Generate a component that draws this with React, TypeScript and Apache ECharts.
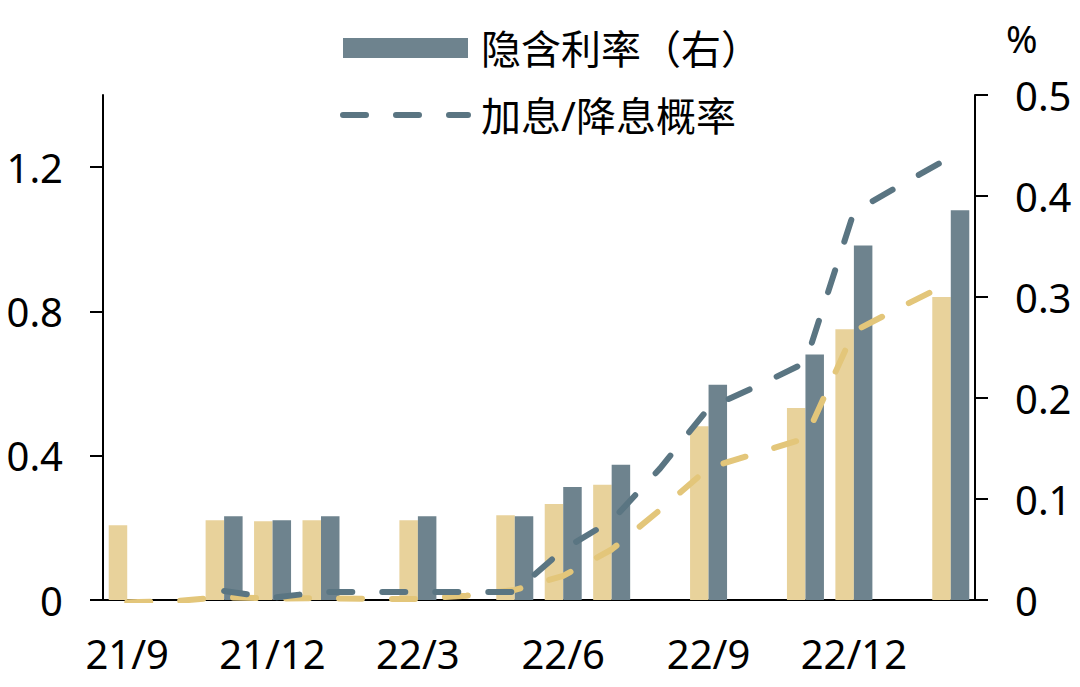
import React, { useEffect, useRef } from "react";
import * as echarts from "echarts";

const categories = [
  "21/9", "21/10", "21/11", "21/12", "22/1", "22/2", "22/3", "22/4", "22/5",
  "22/6", "22/7", "22/8", "22/9", "22/10", "22/11", "22/12", "23/1", "23/2",
];
// implied rate (right axis, %)
const impliedRate = [null, null, 0.083, 0.079, 0.083, null, 0.083, null, 0.083, 0.112, 0.134, null, 0.213, null, 0.243, 0.351, null, 0.386];
const impliedRatePrev = [0.074, null, 0.079, 0.078, 0.079, null, 0.079, null, 0.084, 0.095, 0.114, null, 0.172, null, 0.19, 0.268, null, 0.3];
// hike / cut probability (left axis)
const hikeProb = [null, null, 0.025, 0.006, 0.022, 0.022, 0.022, 0.022, 0.022, 0.14, 0.22, 0.365, 0.532, 0.593, 0.658, 1.076, 1.153, 1.228];
const hikeProbPrev = [-0.006, -0.003, 0.008, 0.004, 0.005, 0.003, 0.003, 0.012, 0.028, 0.067, 0.14, 0.25, 0.366, 0.407, 0.448, 0.745, 0.814, 0.881];
const leftTicks = [0, 0.4, 0.8, 1.2];

const GREY_BAR = "#6E838E";
const TAN_BAR = "#E8D29B";
const GREY_LINE = "#5A7582";
const TAN_LINE = "#E3C67A";
const FONT = '"Noto Sans", "Noto Sans CJK SC", sans-serif';

export default function App() {
  const ref = useRef<HTMLDivElement>(null);
  useEffect(() => {
    if (!ref.current) return;
    const chart = echarts.init(ref.current, null, { renderer: "svg" });
    const dash = [23, 30];
    chart.setOption({
      animation: false,
      backgroundColor: "#fff",
      textStyle: { fontFamily: FONT },
      grid: { left: 103, right: 105, top: 95, bottom: 87 },
      legend: {
        orient: "vertical",
        left: 340,
        top: 27,
        padding: 0,
        itemWidth: 125,
        itemHeight: 20,
        itemGap: 25,
        textStyle: { fontSize: 40, lineHeight: 42, color: "#000", fontFamily: FONT, padding: [0, 0, 0, 8] },
        lineStyle: { width: 6, type: dash, cap: "round" },
        data: [
          { name: "隐含利率（右）", icon: "rect" },
          { name: "加息/降息概率", itemStyle: { color: "rgba(0,0,0,0)", borderWidth: 0, opacity: 0 } },
        ],
      },
      xAxis: {
        type: "category",
        data: categories,
        boundaryGap: true,
        axisLine: { lineStyle: { color: "#000", width: 2 } },
        axisTick: { interval: 2, length: 13, lineStyle: { color: "#000", width: 2 } },
        axisLabel: { interval: 2, margin: 33, fontSize: 40, color: "#000", fontFamily: FONT },
        splitLine: { show: false },
      },
      yAxis: [
        {
          type: "value",
          min: 0,
          max: 1.4,
          position: "left",
          axisLine: { show: true, lineStyle: { color: "#000", width: 2 } },
          axisTick: { show: true, length: 13, customValues: leftTicks, lineStyle: { color: "#000", width: 2 } },
          axisLabel: { customValues: leftTicks, margin: 40, fontSize: 40, color: "#000", fontFamily: FONT },
          splitLine: { show: false },
        },
        {
          type: "value",
          min: 0,
          max: 0.5,
          interval: 0.1,
          position: "right",
          axisLine: { show: true, lineStyle: { color: "#000", width: 2 } },
          axisTick: { show: true, length: 13, lineStyle: { color: "#000", width: 2 } },
          axisLabel: { margin: 40, fontSize: 40, color: "#000", fontFamily: FONT },
          splitLine: { show: false },
        },
      ],
      graphic: [
        {
          type: "text",
          left: 1006,
          top: 19,
          style: { text: "%", fontSize: 38, fill: "#000", fontFamily: FONT },
        },
      ],
      series: [
        {
          name: "隐含利率（前）",
          type: "bar",
          yAxisIndex: 1,
          data: impliedRatePrev,
          barWidth: 18.5,
          barGap: "0%",
          itemStyle: { color: TAN_BAR },
          z: 2,
        },
        {
          name: "隐含利率（右）",
          type: "bar",
          yAxisIndex: 1,
          data: impliedRate,
          barWidth: 18.5,
          barGap: "0%",
          itemStyle: { color: GREY_BAR },
          z: 2,
        },
        {
          name: "加息/降息概率（前）",
          type: "line",
          yAxisIndex: 0,
          data: hikeProbPrev,
          symbol: "none",
          lineStyle: { color: TAN_LINE, width: 6, type: dash, cap: "round" },
          itemStyle: { color: TAN_LINE },
          z: 3,
        },
        {
          name: "加息/降息概率",
          type: "line",
          yAxisIndex: 0,
          data: hikeProb,
          symbol: "none",
          lineStyle: { color: GREY_LINE, width: 6, type: dash, cap: "round" },
          itemStyle: { color: GREY_LINE },
          z: 4,
        },
      ],
    });
    return () => chart.dispose();
  }, []);
  return (
    <div
      ref={ref}
      style={{ position: "fixed", left: 0, top: 0, width: 1080, height: 687, background: "#fff" }}
    />
  );
}
